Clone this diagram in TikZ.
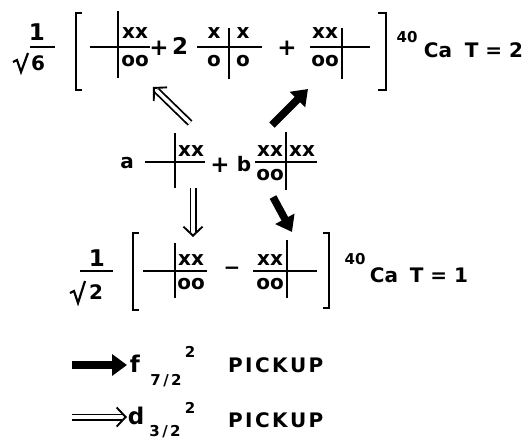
\documentclass[tikz,border=0pt]{standalone}
\usepackage{fontspec}
\setmainfont{DejaVu Sans}
\usetikzlibrary{arrows.meta}
\newcommand\lsp{\kern2.4pt}
\begin{document}
\begin{tikzpicture}[x=1pt,y=-1pt,
  txt/.style={inner sep=0pt, font=\bfseries\fontsize{20}{20}\selectfont},
  cell/.style={inner sep=0pt, font=\bfseries\fontsize{20}{20}\selectfont},
  big/.style={inner sep=0pt, font=\bfseries\fontsize{23}{23}\selectfont},
  sm/.style={inner sep=0pt, font=\bfseries\fontsize{15}{15}\selectfont},
  rule/.style={line width=1.9pt},
  rad/.style={line width=2.2pt, line join=miter},
  brk/.style={line width=2.4pt},
  fat/.style={line width=7.5pt, -{Triangle[length=15pt,width=21pt]}},
  dline/.style={double, double distance=3.4pt, line width=1.8pt, shorten >=5pt},
  dhead/.style={draw=white, line width=0.2pt, -{Straight Barb[length=9pt,width=19pt,line width=1.9pt,color=black]}},
]
\useasboundingbox (0,0) rectangle (525,440);

% ---------- top row (T=2) ----------
\node[big] (t1) at (37,32) {1};
\draw[rule] (30,47) -- (55,47);
\draw[rad] (13,62) -- (17,60) -- (21,72) -- (28,53);
\node[txt] (t6) at (38,63) {6};
\draw[brk] (82,13) -| (76,90) -- (82,90);
% cross 1
\draw[rule] (90,47) -- (150,47);
\draw[rule] (118,11) -- (118,78);
\node[cell] (c1x) at (135,33) {xx};
\node[cell] (c1o) at (135,61) {oo};
\node[big] (tp1) at (159,48) {+};
\node[big] (tk2) at (180,46) {2};
% cross 2
\draw[rule] (197,47) -- (262,47);
\draw[rule] (229,28) -- (229,79);
\node[cell] (c2xl) at (214,33) {x};
\node[cell] (c2xr) at (243,33) {x};
\node[cell] (c2ol) at (214,61) {o};
\node[cell] (c2or) at (243,61) {o};
\node[big] (tp2) at (287,48) {+};
% cross 3
\draw[rule] (310,47) -- (370,47);
\draw[rule] (342,28) -- (342,79);
\node[cell] (c3x) at (325,33) {xx};
\node[cell] (c3o) at (325,61) {oo};
\draw[brk] (378,13) -| (386,90) -- (378,90);
\node[sm] (t40) at (407,37) {40};
\node[txt] (tca) at (438,50) {Ca};
\node[txt] (tT) at (494,50) {T = 2};

% ---------- middle row ----------
\node[txt] (ma) at (127,163) {a};
\draw[rule] (145,162) -- (205,162);
\draw[rule] (175,133) -- (175,188);
\node[cell] (mAx) at (191,151) {xx};
\node[big] (mp) at (220,165) {+};
\node[txt] (mb) at (244,164) {b};
\draw[rule] (255,162) -- (317,162);
\draw[rule] (286,132) -- (286,190);
\node[cell] (mBxl) at (270,151) {xx};
\node[cell] (mBol) at (270,175) {oo};
\node[cell] (mBxr) at (302,151) {xx};

% ---------- bottom row (T=1) ----------
\node[big] (b1) at (97,258) {1};
\draw[rule] (80,271) -- (113,271);
\draw[rad] (70,293) -- (74,291) -- (78,303) -- (85,281);
\node[txt] (b2) at (96,292) {2};
\draw[brk] (139,233) -| (133,310) -- (139,310);
\draw[rule] (143,271) -- (207,271);
\draw[rule] (175,243) -- (175,298);
\node[cell] (cCx) at (191,260) {xx};
\node[cell] (cCo) at (191,284) {oo};
\node[txt] (bm) at (232,271) {−};
\draw[rule] (253,271) -- (317,271);
\draw[rule] (287,240) -- (287,298);
\node[cell] (cDx) at (270,260) {xx};
\node[cell] (cDo) at (270,284) {oo};
\draw[brk] (323,233) -| (329,308) -- (323,308);
\node[sm] (b40) at (355,259) {40};
\node[txt] (bca) at (384,275) {Ca};
\node[txt] (bT) at (439,275) {T = 1};

% ---------- arrows ----------
\coordinate (u1s) at (190,123); \coordinate (u1e) at (153,87);
\coordinate (u2s) at (272,125); \coordinate (u2e) at (308,89);
\coordinate (d1s) at (193,188); \coordinate (d1e) at (193,237);
\coordinate (d2s) at (273,197); \coordinate (d2e) at (292,232);
\draw[dline] (u1s) -- (u1e);
\draw[dhead] (u1s) -- (u1e);
\draw[fat] (u2s) -- (u2e);
\draw[dline] (d1s) -- (d1e);
\draw[dhead] (d1s) -- (d1e);
\draw[fat] (d2s) -- (d2e);

% ---------- legend ----------
\coordinate (l1s) at (72,365); \coordinate (l1e) at (127,365);
\coordinate (l2s) at (72,417); \coordinate (l2e) at (127,417);
\draw[fat] (l1s) -- (l1e);
\draw[dline] (l2s) -- (l2e);
\draw[dhead] (l2s) -- (l2e);
\node[big] (lf) at (135,364) {f};
\node[sm] (lfs) at (166,381) {7\,/\,2};
\node[sm] (lfp) at (190,352) {2};
\node[txt, anchor=west] (lp1) at (228,365) {P\lsp I\lsp C\lsp K\lsp U\lsp P};
\node[big] (ld) at (136,416) {d};
\node[sm] (lds) at (165,432) {3\,/\,2};
\node[sm] (ldp) at (190,408) {2};
\node[txt, anchor=west] (lp2) at (228,420) {P\lsp I\lsp C\lsp K\lsp U\lsp P};
\end{tikzpicture}
\end{document}
